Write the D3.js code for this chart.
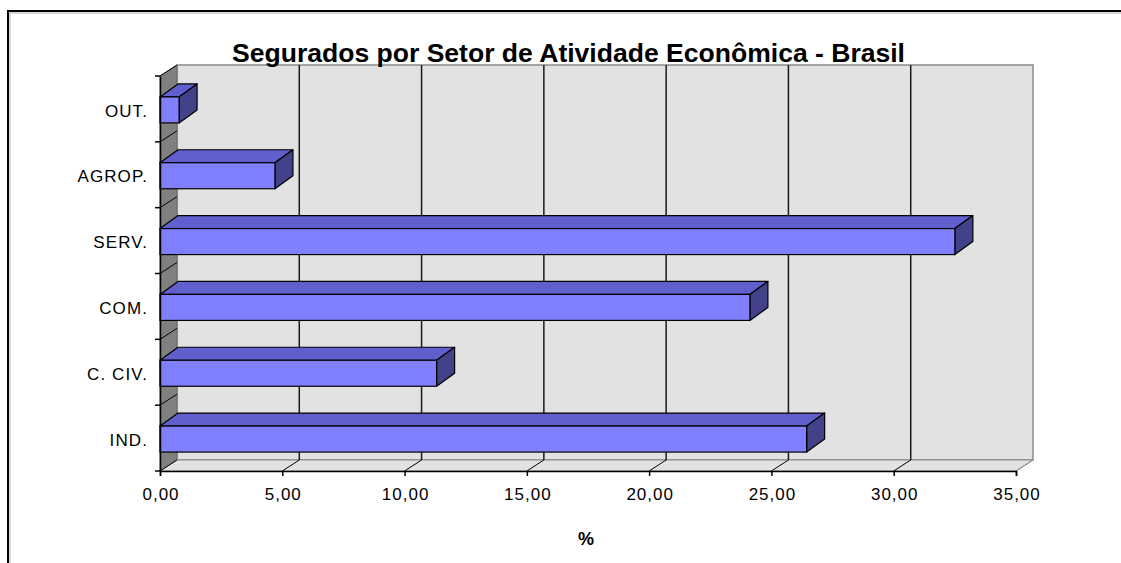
<!DOCTYPE html>
<html>
<head>
<meta charset="utf-8">
<script src="https://cdn.jsdelivr.net/npm/d3@7"></script>
<style>
  body { margin: 0; background: #fff; }
  svg { display: block; }
  text { font-family: "Liberation Sans", Arial, sans-serif; fill: #000; }
</style>
</head>
<body>
<svg id="chart" width="1121" height="563"></svg>
<script>
const categories = ['OUT.', 'AGROP.', 'SERV.', 'COM.', 'C. CIV.', 'IND.']
const values = [0.78, 4.70, 32.50, 24.12, 11.31, 26.44]
const xTicks = [0, 5, 10, 15, 20, 25, 30, 35]
const title = 'Segurados por Setor de Atividade Econômica - Brasil'
const xTitle = '%'

const svg = d3.select('#chart')

// depth offsets of the 3d box
const wall = { dx: 17, dy: -11 }
const barDepth = { dx: 18, dy: -13 }
const plotTop = 76, plotBottom = 471, plotLeft = 160, plotRight = 1016

const x = d3.scaleLinear().domain([0, 35]).range([plotLeft, plotRight])
const y = d3.scaleBand().domain(categories).range([plotTop, plotBottom])
const fmt = d => d3.format('.2f')(d).replace('.', ',')

// outer frame
svg.append('path')
  .attr('d', `M8,563 V11 H1121`)
  .attr('fill', 'none').attr('stroke', '#000').attr('stroke-width', 2)
svg.append('path')
  .attr('d', `M10,563 V13 H1121`)
  .attr('fill', 'none').attr('stroke', '#b0b0b0').attr('stroke-width', 1)

// back wall
svg.append('rect')
  .attr('x', plotLeft + wall.dx).attr('y', plotTop + wall.dy)
  .attr('width', plotRight - plotLeft).attr('height', plotBottom - plotTop)
  .attr('fill', '#e2e2e2').attr('stroke', '#8a8a8a').attr('stroke-width', 1.5)

// side wall
svg.append('polygon')
  .attr('points', [[plotLeft, plotTop], [plotLeft + wall.dx, plotTop + wall.dy], [plotLeft + wall.dx, plotBottom + wall.dy], [plotLeft, plotBottom]].join(' '))
  .attr('fill', '#808080').attr('stroke', '#6a6a6a')

// floor
svg.append('polygon')
  .attr('points', [[plotLeft, plotBottom], [plotLeft + wall.dx, plotBottom + wall.dy], [plotRight + wall.dx, plotBottom + wall.dy], [plotRight, plotBottom]].join(' '))
  .attr('fill', '#e2e2e2').attr('stroke', '#8a8a8a')

// gridlines on back wall
svg.append('g').selectAll('line')
  .data(xTicks.slice(1, -1))
  .enter().append('line')
  .attr('x1', d => x(d) + wall.dx).attr('x2', d => x(d) + wall.dx)
  .attr('y1', plotTop + wall.dy).attr('y2', plotBottom + wall.dy)
  .attr('stroke', '#1a1a1a').attr('stroke-width', 1.5)

// diagonal ticks on floor
svg.append('g').selectAll('line')
  .data(xTicks.slice(1))
  .enter().append('line')
  .attr('x1', d => x(d)).attr('y1', plotBottom)
  .attr('x2', d => x(d) + wall.dx).attr('y2', plotBottom + wall.dy)
  .attr('stroke', d => d === 35 ? '#8a8a8a' : '#000').attr('stroke-width', 1)

// diagonal lines on side wall at category boundaries
const bounds = categories.map(c => y(c)).concat([plotBottom])
svg.append('g').selectAll('line')
  .data(bounds)
  .enter().append('line')
  .attr('x1', plotLeft).attr('y1', d => d)
  .attr('x2', plotLeft + wall.dx).attr('y2', d => d + wall.dy)
  .attr('stroke', '#000').attr('stroke-width', 1)

// bars
const barH = 26
const bars = svg.append('g').selectAll('g')
  .data(categories.map((c, i) => ({ c, v: values[i] })))
  .enter().append('g')

const faceTop = d => y(d.c) + y.bandwidth() / 2 + 1 - barH / 2

bars.append('polygon')
  .attr('points', d => {
    const y0 = faceTop(d), x1 = x(d.v)
    return [[plotLeft, y0], [x1, y0], [x1 + barDepth.dx, y0 + barDepth.dy], [plotLeft + barDepth.dx, y0 + barDepth.dy]].join(' ')
  })
  .attr('fill', '#5f5fcd').attr('stroke', '#000').attr('stroke-width', 1.2).attr('stroke-linejoin', 'round')

bars.append('polygon')
  .attr('points', d => {
    const y0 = faceTop(d), x1 = x(d.v)
    return [[x1, y0], [x1 + barDepth.dx, y0 + barDepth.dy], [x1 + barDepth.dx, y0 + barH + barDepth.dy], [x1, y0 + barH]].join(' ')
  })
  .attr('fill', '#42428a').attr('stroke', '#000').attr('stroke-width', 1.2).attr('stroke-linejoin', 'round')

bars.append('rect')
  .attr('x', plotLeft).attr('y', faceTop)
  .attr('width', d => x(d.v) - plotLeft).attr('height', barH)
  .attr('fill', '#8080ff').attr('stroke', '#000').attr('stroke-width', 1.2)

// axes
const xAxis = svg.append('g').attr('transform', `translate(0,${plotBottom})`)
  .call(d3.axisBottom(x).tickValues(xTicks).tickFormat(fmt).tickSizeOuter(0).tickSize(5).tickPadding(12))
xAxis.select('.domain').attr('stroke', '#000').attr('stroke-width', 1.5)
xAxis.selectAll('.tick line').attr('stroke', '#000').attr('stroke-width', 1.5)
xAxis.selectAll('text')
  .style('font-family', '"Liberation Sans", Arial, sans-serif')
  .style('font-size', '17px').style('letter-spacing', '1px')
  .attr('dx', '0.5px')

const yAxis = svg.append('g').attr('transform', `translate(${plotLeft},0)`)
  .call(d3.axisLeft(y).tickSize(0).tickPadding(12))
yAxis.select('.domain').attr('stroke', '#000').attr('stroke-width', 1.5)
yAxis.selectAll('text')
  .style('font-family', '"Liberation Sans", Arial, sans-serif')
  .style('font-size', '17px').style('letter-spacing', '1.1px')
  .attr('dy', '0.45em')

// ticks at category boundaries
svg.append('g').selectAll('line')
  .data(bounds)
  .enter().append('line')
  .attr('x1', plotLeft - 5).attr('x2', plotLeft)
  .attr('y1', d => d).attr('y2', d => d)
  .attr('stroke', '#000').attr('stroke-width', 1.5)

// axis title
svg.append('text')
  .attr('x', 586).attr('y', 545)
  .attr('text-anchor', 'middle')
  .style('font-size', '18px').style('font-weight', 'bold')
  .text(xTitle)

// chart title
svg.append('text')
  .attr('x', 232).attr('y', 62)
  .attr('textLength', 673).attr('lengthAdjust', 'spacingAndGlyphs')
  .style('font-size', '25px').style('font-weight', 'bold')
  .text(title)
</script>
</body>
</html>
